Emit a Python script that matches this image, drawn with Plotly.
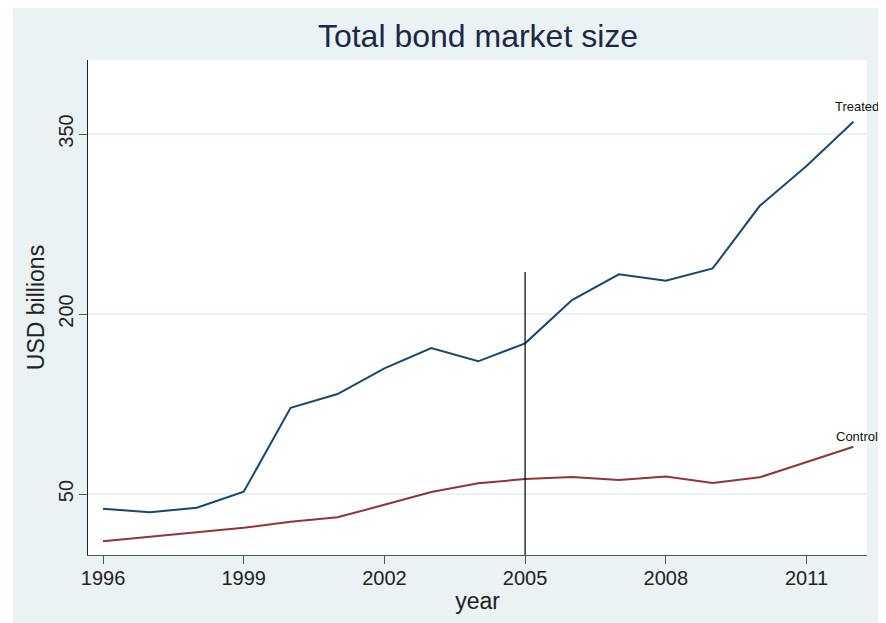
import plotly.graph_objects as go

years = list(range(1996, 2013))
treated = [37.8, 34.8, 38.6, 51.9, 121.9, 133.3, 154.7, 171.7, 160.6, 175.6,
           211.7, 233.1, 227.8, 238.0, 290.0, 323.3, 360.3]
control = [10.6, 14.4, 18.6, 21.9, 26.9, 30.6, 41.0, 51.7, 58.9, 62.5,
           64.2, 61.7, 64.7, 59.2, 63.9, 76.7, 89.4]
series_names = ["Treated", "Control"]
x_ticks = [1996, 1999, 2002, 2005, 2008, 2011]
y_ticks = [50, 200, 350]
event_year = 2005
event_line_top = 235

# page body has an 8px margin, so the figure is sized to fill the rest
W, H = 878, 615
ML, MR, MT, MB = 80, 19, 52, 68
PW, PH = W - ML - MR, H - MT - MB
BG = "#EAF2F3"
FONT = "Liberation Sans, Arial, sans-serif"

fig = go.Figure()
colors = ["#1A476F", "#90353B"]
for name, vals, col in zip(series_names, [treated, control], colors):
    fig.add_trace(go.Scatter(x=years, y=vals, mode="lines", name=name,
                             line=dict(color=col, width=2), showlegend=False))

# vertical event line
fig.add_trace(go.Scatter(x=[event_year, event_year], y=[-1, event_line_top], mode="lines",
                         line=dict(color="#000000", width=1.2), showlegend=False,
                         hoverinfo="skip"))

# end labels
for name, vals, ys in zip(series_names, [treated, control], [6, 1]):
    fig.add_annotation(x=years[-1], y=vals[-1], text=name, showarrow=False,
                       xanchor="center", yanchor="bottom", xshift=4, yshift=ys,
                       font=dict(family=FONT, size=13, color="#111111"))

# thin white strip at the left of the image
fig.add_shape(type="rect", xref="paper", yref="paper",
              x0=-ML / PW - 0.01, x1=(5 - ML) / PW, y0=-1, y1=2,
              fillcolor="white", line_width=0, layer="below")

fig.update_layout(
    width=W, height=H,
    margin=dict(l=ML, r=MR, t=MT, b=MB, autoexpand=False),
    paper_bgcolor=BG, plot_bgcolor="white",
    font=dict(family=FONT, color="#222222"),
    title=dict(text="Total bond market size", x=470 / W, xanchor="center",
               y=1 - 28 / H, yanchor="middle",
               font=dict(family=FONT, size=32, color="#1c2847")),
)
fig.update_xaxes(range=[1995.68, 2012.29], tickvals=x_ticks, showgrid=False,
                 showline=True, linecolor="#555555", linewidth=1.3,
                 ticks="outside", ticklen=8, tickcolor="#555555", tickwidth=1.3,
                 ticklabelstandoff=-3,
                 tickfont=dict(size=20, color="#222222"), zeroline=False,
                 title=dict(text="year", font=dict(size=23, color="#222222"), standoff=4))
fig.update_yaxes(range=[-0.8, 411.7], tickvals=y_ticks, showgrid=True,
                 gridcolor=BG, gridwidth=1.5,
                 showline=True, linecolor="#222222", linewidth=1.3,
                 ticks="outside", ticklen=8, tickcolor="#555555", tickwidth=1.3,
                 tickangle=-90, ticklabelstandoff=-2,
                 tickfont=dict(size=20, color="#222222"), zeroline=False,
                 title=dict(text="USD billions", font=dict(size=23, color="#222222"), standoff=3))

fig.write_html("out.html")
